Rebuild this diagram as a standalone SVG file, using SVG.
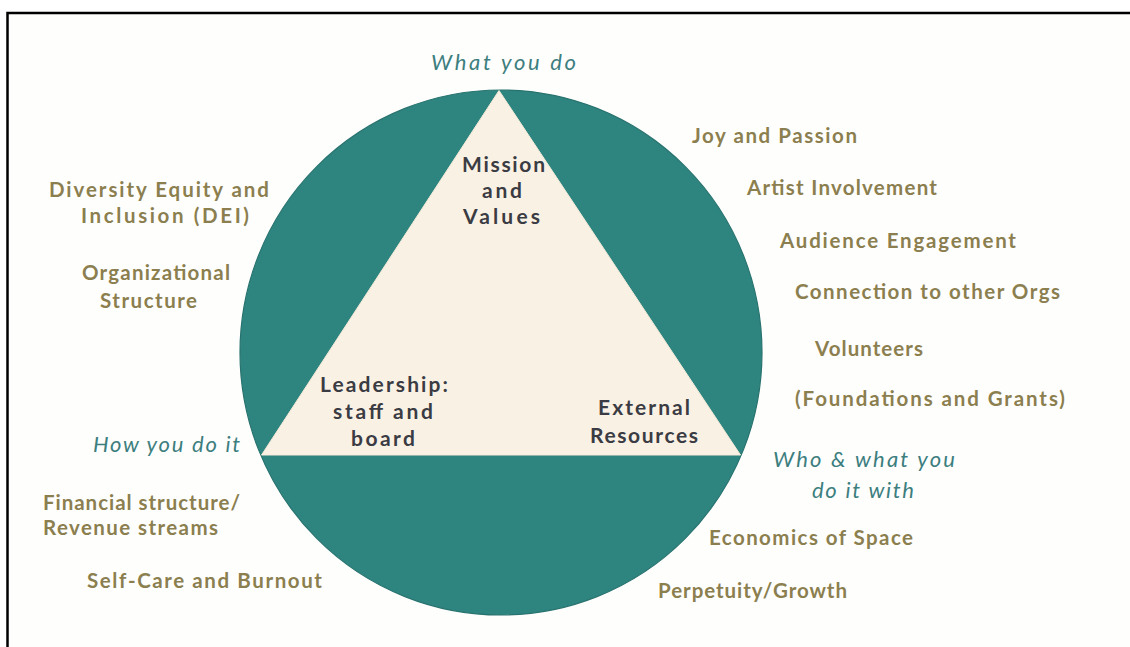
<svg xmlns="http://www.w3.org/2000/svg" width="1130" height="647" viewBox="0 0 1130 647">
  <style>
    .frame { fill: #fefefd; stroke: #000; stroke-width: 2.5; }
    .disc { fill: #2e8580; stroke: #28736f; stroke-width: 1.2; }
    .tri { fill: #faf1e5; stroke: #f4ead8; stroke-width: 1; }
    .item { font-family: Lato, "Noto Sans", sans-serif; font-weight: 700; font-size: 20.5px; fill: #8c7f4f; }
    .core { font-family: Lato, "Noto Sans", sans-serif; font-weight: 700; font-size: 21px; fill: #3b3c43; }
    .axis { font-family: Lato, "Noto Sans", sans-serif; font-style: italic; font-weight: 400; font-size: 22px; fill: #3d7e7f; }
  </style>

  <!-- page frame (right and bottom edges fall outside the canvas) -->
  <rect class="frame" x="7.5" y="13" width="1140" height="650"/>

  <!-- central disc with the triangle inscribed -->
  <g id="wheel">
    <ellipse class="disc" cx="501" cy="352.5" rx="261" ry="262.5"/>
    <polygon class="tri" points="499,90.5 261.5,455 740.5,455"/>
  </g>

  <!-- triangle corners -->
  <g id="mission-values">
    <text class="core" x="462" y="172" textLength="83" lengthAdjust="spacing">Mission</text>
    <text class="core" x="482" y="198" textLength="40" lengthAdjust="spacing">and</text>
    <text class="core" x="463" y="224" textLength="77" lengthAdjust="spacing">Values</text>
  </g>
  <g id="leadership">
    <text class="core" x="320" y="392" textLength="128" lengthAdjust="spacing">Leadership:</text>
    <text class="core" x="333" y="419" textLength="100" lengthAdjust="spacing">staff and</text>
    <text class="core" x="351" y="446" textLength="64" lengthAdjust="spacing">board</text>
  </g>
  <g id="external-resources">
    <text class="core" x="598" y="415" textLength="92" lengthAdjust="spacing">External</text>
    <text class="core" x="590" y="443" textLength="108" lengthAdjust="spacing">Resources</text>
  </g>

  <!-- axis captions -->
  <g id="what-you-do">
    <text class="axis" x="431" y="70" textLength="145" lengthAdjust="spacing">What you do</text>
  </g>
  <g id="how-you-do-it">
    <text class="axis" x="93" y="452" textLength="147" lengthAdjust="spacing">How you do it</text>
  </g>
  <g id="who-and-what">
    <text class="axis" x="773" y="467" textLength="182" lengthAdjust="spacing">Who &amp; what you</text>
    <text class="axis" x="812" y="498" textLength="102" lengthAdjust="spacing">do it with</text>
  </g>

  <!-- left-hand topics -->
  <g id="dei">
    <text class="item" x="49" y="197" textLength="220" lengthAdjust="spacing">Diversity Equity and</text>
    <text class="item" x="81" y="223" textLength="168" lengthAdjust="spacing">Inclusion (DEI)</text>
  </g>
  <g id="org-structure">
    <text class="item" x="82" y="280" textLength="148" lengthAdjust="spacing">Organizational</text>
    <text class="item" x="100" y="308" textLength="97" lengthAdjust="spacing">Structure</text>
  </g>
  <g id="financial">
    <text class="item" x="43" y="510" textLength="197" lengthAdjust="spacing">Financial structure/</text>
    <text class="item" x="43" y="535" textLength="175" lengthAdjust="spacing">Revenue streams</text>
  </g>
  <g id="self-care">
    <text class="item" x="87" y="588" textLength="235" lengthAdjust="spacing">Self-Care and Burnout</text>
  </g>

  <!-- right-hand topics -->
  <g id="joy">
    <text class="item" x="692" y="143" textLength="165" lengthAdjust="spacing">Joy and Passion</text>
  </g>
  <g id="artist">
    <text class="item" x="747" y="195" textLength="190" lengthAdjust="spacing">Artist Involvement</text>
  </g>
  <g id="audience">
    <text class="item" x="780" y="248" textLength="236" lengthAdjust="spacing">Audience Engagement</text>
  </g>
  <g id="connection">
    <text class="item" x="795" y="299" textLength="265" lengthAdjust="spacing">Connection to other Orgs</text>
  </g>
  <g id="volunteers">
    <text class="item" x="815" y="356" textLength="108" lengthAdjust="spacing">Volunteers</text>
  </g>
  <g id="foundations">
    <text class="item" x="795" y="406" textLength="270" lengthAdjust="spacing">(Foundations and Grants)</text>
  </g>
  <g id="economics">
    <text class="item" x="709" y="545" textLength="204" lengthAdjust="spacing">Economics of Space</text>
  </g>
  <g id="perpetuity">
    <text class="item" x="658" y="598" textLength="189" lengthAdjust="spacing">Perpetuity/Growth</text>
  </g>
</svg>
